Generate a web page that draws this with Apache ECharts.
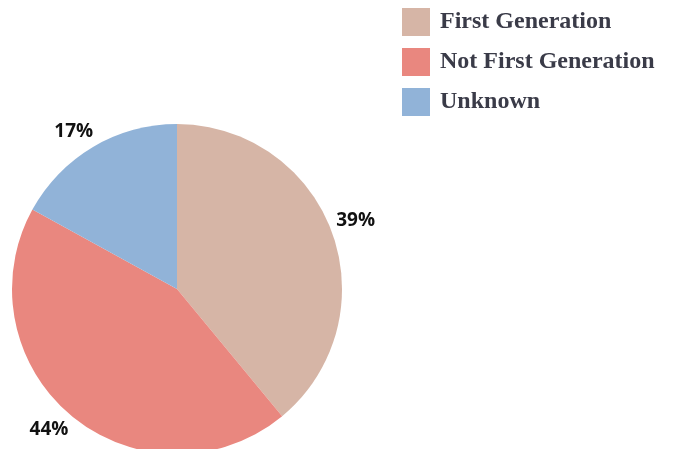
<!DOCTYPE html>
<html><head><meta charset="utf-8">
<script src="https://cdn.jsdelivr.net/npm/echarts@6/dist/echarts.min.js"></script>
<style>html,body{margin:0;padding:0;background:#fff}#c{width:674px;height:449px}</style>
</head><body><div id="c"></div>
<script>
const categories = ['First Generation', 'Not First Generation', 'Unknown'];
const values = [39, 44, 17];
const colors = ['#d6b5a6', '#e9877f', '#91b3d8'];

const labelNudge = [[-3, -3], [-5, -8], [-5, 9]];
const data = categories.map((n, i) => ({ name: n, value: values[i], itemStyle: { color: colors[i] } }));
const chart = echarts.init(document.getElementById('c'));
chart.setOption({
  animation: false,
  legend: {
    orient: 'vertical', left: 402, top: 8, icon: 'rect', padding: 0,
    itemWidth: 28, itemHeight: 28, itemGap: 12,
    data: categories,
    textStyle: { fontFamily: 'Liberation Serif', fontWeight: 'bold', fontSize: 24, color: '#3a3b48', padding: [0, 0, 0, 5] }
  },
  series: [
    {
      type: 'pie', center: [177, 289], radius: 165, startAngle: 90,
      data: data, label: { show: false }, labelLine: { show: false },
      emphasis: { disabled: true }
    },
    {
      type: 'pie', center: [177, 289], radius: [0, 380], startAngle: 90, silent: true,
      data: categories.map((n, i) => ({ name: n, value: values[i], label: { offset: labelNudge[i] } })),
      itemStyle: { color: 'rgba(0,0,0,0)' },
      label: { show: true, position: 'inside', formatter: p => p.value + '%',
        fontFamily: 'Open Sans', fontWeight: 'bold', fontSize: 19, color: '#111' },
      labelLine: { show: false }, z: 5
    }
  ]
});
</script></body></html>
